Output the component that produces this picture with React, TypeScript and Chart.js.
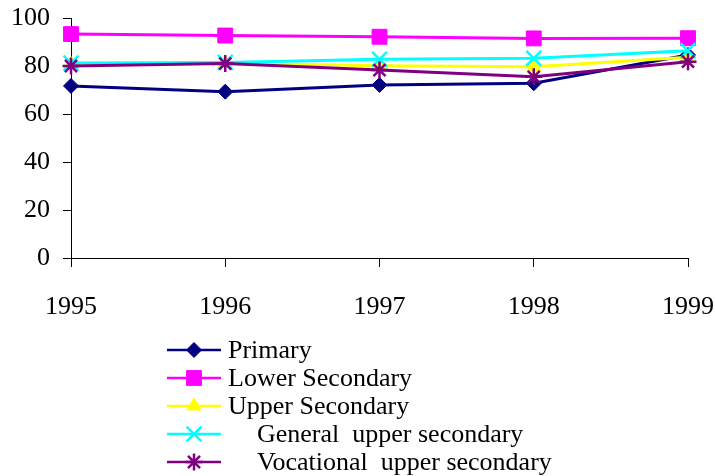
import React, { useEffect, useRef } from "react";
import { Chart, registerables, PointElement } from "chart.js";

Chart.register(...registerables);

const years = ["1995", "1996", "1997", "1998", "1999"];
const primary = [71.7, 69.3, 72.1, 72.8, 84.6];
const lowerSecondary = [93.3, 92.7, 92.2, 91.5, 91.6];
const upperSecondary = [80.6, 81.2, 80.1, 79.7, 83.6];
const generalUpper = [81.2, 81.5, 82.8, 83.2, 86.4];
const vocationalUpper = [80.0, 81.0, 78.3, 75.5, 81.8];
const yTicks = [0, 20, 40, 60, 80, 100];

const FONT = '"Liberation Serif", "Times New Roman", Times, serif';

function drawMarker(ctx: any, d: any, x: number, y: number) {
  const el: any = new (PointElement as any)({});
  el.x = x;
  el.y = y;
  el.skip = false;
  el.options = {
    pointStyle: d.pointStyle,
    radius: d.pointRadius,
    rotation: 0,
    borderWidth: d.pointBorderWidth,
    backgroundColor: d.pointBackgroundColor,
    borderColor: d.pointBorderColor,
  };
  el.draw(ctx);
}

const legendPlugin = {
  id: "customLegend",
  afterDraw(chart: any) {
    const ctx = chart.ctx;
    const ds = chart.data.datasets;
    const startY = 350;
    const rowH = 28;
    ctx.save();
    ds.forEach((d: any, i: number) => {
      const y = startY + i * rowH;
      ctx.strokeStyle = d.borderColor;
      ctx.lineWidth = 2.5;
      ctx.beginPath();
      ctx.moveTo(167, y);
      ctx.lineTo(221, y);
      ctx.stroke();
      drawMarker(ctx, d, 194, y);
      ctx.fillStyle = "#000";
      ctx.font = `26px ${FONT}`;
      ctx.textBaseline = "middle";
      ctx.textAlign = "left";
      ctx.fillText(d.label, d.indent ? 257 : 228, y + 1);
    });
    ctx.restore();
  },
};

export default function App() {
  const ref = useRef<HTMLCanvasElement>(null);
  useEffect(() => {
    document.body.style.margin = "0";
    let chart: any = null;
    let cancelled = false;
    const datasetsMeta = [
      { label: "Primary", data: primary, color: "#000080", style: "rectRot", r: 7.5, bw: 1, indent: false },
      { label: "Lower Secondary", data: lowerSecondary, color: "#FF00FF", style: "rect", r: 10.5, bw: 1, indent: false },
      { label: "Upper Secondary", data: upperSecondary, color: "#FFFF00", style: "triangle", r: 8, bw: 1, indent: false },
      { label: "General  upper secondary", data: generalUpper, color: "#00FFFF", style: "crossRot", r: 10.5, bw: 2.5, indent: true },
      { label: "Vocational  upper secondary", data: vocationalUpper, color: "#800080", style: "star", r: 8.5, bw: 2.5, indent: true },
    ];
    const build = () => {
      if (cancelled || !ref.current) return;
      chart = new Chart(ref.current, {
        type: "line",
        data: {
          labels: years,
          datasets: datasetsMeta.map((m, i) => ({
            label: m.label,
            data: m.data,
            borderColor: m.color,
            backgroundColor: m.color,
            borderWidth: 3,
            pointStyle: m.style,
            pointRadius: m.r,
            pointBackgroundColor: m.color,
            pointBorderColor: m.color,
            pointBorderWidth: m.bw,
            tension: 0,
            order: datasetsMeta.length - i,
            indent: m.indent,
          })) as any,
        },
        options: {
          animation: false,
          responsive: false,
          layout: { padding: { top: 18, right: 27, left: 0, bottom: 0 } },
          plugins: { legend: { display: false }, tooltip: { enabled: false } },
          scales: {
            x: {
              offset: false,
              grid: { display: true, drawOnChartArea: false, drawTicks: true, tickLength: 9, color: "#000" },
              border: { display: true, color: "#000", width: 1 },
              ticks: { color: "#000", font: { family: FONT, size: 26 }, padding: 25, maxRotation: 0, autoSkip: false },
              afterFit: (s: any) => {
                s.height = 476 - 258;
                s.paddingLeft = 0;
                s.paddingRight = 0;
              },
            },
            y: {
              min: 0,
              max: 100,
              afterBuildTicks: (s: any) => {
                s.ticks = yTicks.map((v) => ({ value: v }));
              },
              grid: { display: true, drawOnChartArea: false, drawTicks: true, tickLength: 8, color: "#000" },
              border: { display: true, color: "#000", width: 1 },
              ticks: { color: "#000", font: { family: FONT, size: 26 }, padding: 13 },
              afterFit: (s: any) => {
                s.width = 71;
                s.paddingTop = 0;
                s.paddingBottom = 0;
              },
            },
          },
        },
        plugins: [legendPlugin],
      });
    };
    const fonts: any = (document as any).fonts;
    if (fonts && fonts.load) {
      fonts.load('26px "Liberation Serif"').then(build, build);
    } else {
      build();
    }
    return () => {
      cancelled = true;
      if (chart) chart.destroy();
    };
  }, []);
  return (
    <div style={{ width: 715, height: 476 }}>
      <canvas ref={ref} width={715} height={476} style={{ display: "block" }} />
    </div>
  );
}
